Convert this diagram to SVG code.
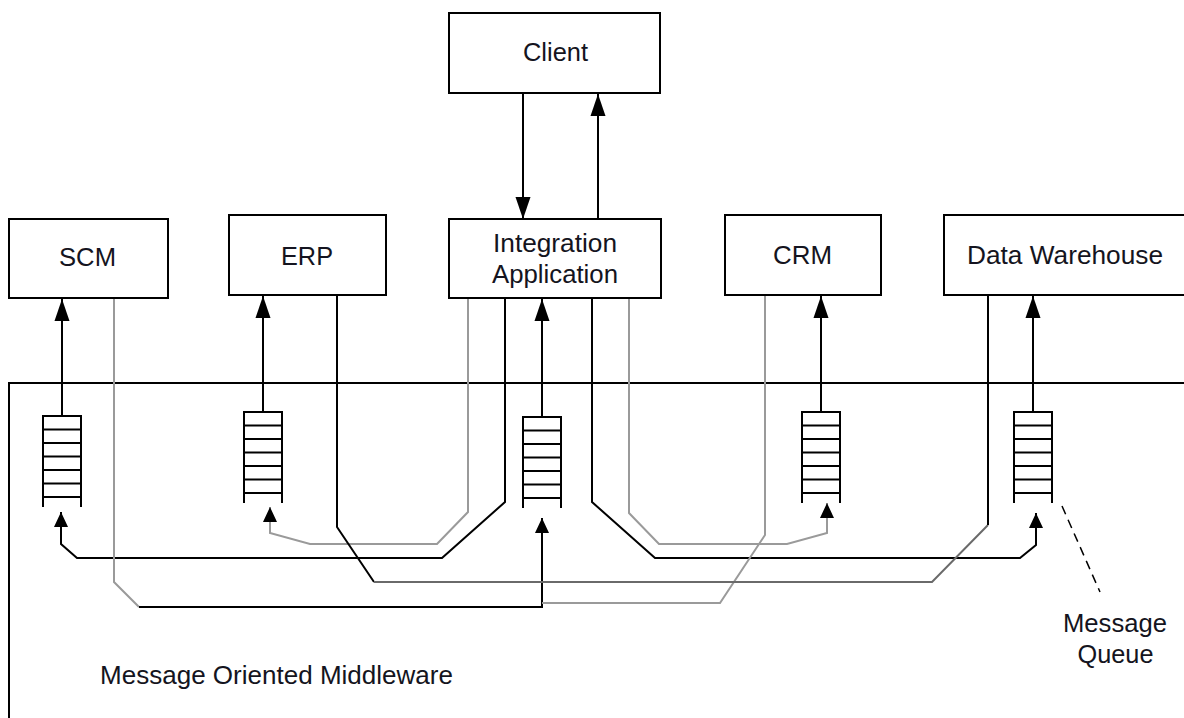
<svg xmlns="http://www.w3.org/2000/svg" xmlns:xlink="http://www.w3.org/1999/xlink" width="1184" height="718" viewBox="0 0 1184 718">
  <style>
    .box { fill: #fff; stroke: #000; stroke-width: 2; }
    .lbl { font-family: "Liberation Sans", Arial, Helvetica, sans-serif; font-size: 25px; fill: #141420; text-anchor: middle; }
    .blk { fill: none; stroke: #000; stroke-width: 2; stroke-linejoin: miter; }
    .gry { fill: none; stroke: #9a9a9a; stroke-width: 2; }
    .mid { fill: none; stroke: #6a6a6a; stroke-width: 2; }
    .frame { fill: none; stroke: #000; stroke-width: 2; }
    .q { fill: none; stroke: #000; stroke-width: 2; }
    .lead { fill: none; stroke: #000; stroke-width: 1.5; stroke-dasharray: 9 6; }
  </style>
  <defs>
    <!-- long arrowhead for the queue-to-application and client links -->
    <marker id="ah-lg" markerUnits="userSpaceOnUse" viewBox="0 0 23 16" markerWidth="23" markerHeight="16" refX="22" refY="8" orient="auto">
      <path d="M0,0.5 L22,8 L0,15.5 z" fill="#000"/>
    </marker>
    <!-- short arrowhead for the routes feeding a queue -->
    <marker id="ah-sm" markerUnits="userSpaceOnUse" viewBox="0 0 16 14" markerWidth="16" markerHeight="14" refX="15" refY="7" orient="auto">
      <path d="M0,0 L15,7 L0,14 z" fill="#000"/>
    </marker>
    <!-- message queue: open-bottomed ladder -->
    <g id="queue-shape">
      <path class="q" d="M0,91 V0 H38 V91 M0,13.5 H38 M0,27 H38 M0,40.5 H38 M0,54 H38 M0,67.5 H38 M0,81 H38"/>
    </g>
  </defs>

  <rect width="1184" height="718" fill="#fff"/>

  <!-- middleware frame -->
  <g id="mom">
    <path class="frame" d="M1184,383 H9 V718"/>
    <text class="lbl" x="276.5" y="684" textLength="353" lengthAdjust="spacingAndGlyphs">Message Oriented Middleware</text>
  </g>

  <!-- queues -->
  <g id="queue-scm"><use xlink:href="#queue-shape" x="43" y="416"/></g>
  <g id="queue-erp"><use xlink:href="#queue-shape" x="244" y="412"/></g>
  <g id="queue-integration"><use xlink:href="#queue-shape" x="523" y="417"/></g>
  <g id="queue-crm"><use xlink:href="#queue-shape" x="802" y="412"/></g>
  <g id="queue-dw"><use xlink:href="#queue-shape" x="1014" y="412"/></g>

  <g id="connectors">
    <!-- client <-> integration application -->
    <path class="blk" d="M523,93 V219" marker-end="url(#ah-lg)"/>
    <path class="blk" d="M598,219 V94" marker-end="url(#ah-lg)"/>

    <!-- queue deliveries -->
    <path class="blk" d="M62,416 V299" marker-end="url(#ah-lg)"/>
    <path class="blk" d="M263,412 V296" marker-end="url(#ah-lg)"/>
    <path class="blk" d="M542,417 V299" marker-end="url(#ah-lg)"/>
    <path class="blk" d="M821,412 V296" marker-end="url(#ah-lg)"/>
    <path class="blk" d="M1033,412 V296" marker-end="url(#ah-lg)"/>

    <!-- integration application -> SCM queue -->
    <path class="blk" d="M505,298 V502 L442,558 H77 L61,544 V512" marker-end="url(#ah-sm)"/>
    <!-- integration application -> ERP queue -->
    <path class="gry" d="M468,298 V512 L437,544 H310 L270,533 V507" marker-end="url(#ah-sm)"/>
    <!-- integration application -> CRM queue -->
    <path class="gry" d="M629,298 V513 L659,544 H787 L827,533 V503" marker-end="url(#ah-sm)"/>
    <!-- integration application -> data warehouse queue -->
    <path class="blk" d="M592,298 V502 L655,558 H1020 L1036,545 V513" marker-end="url(#ah-sm)"/>

    <!-- SCM -> integration queue -->
    <path class="gry" d="M114,298 V582 L139,607"/>
    <path class="blk" d="M139,607 H542 V518" marker-end="url(#ah-sm)"/>
    <!-- CRM -> integration queue -->
    <path class="gry" d="M765,295 V535 L720,603 H542"/>

    <!-- ERP <-> data warehouse -->
    <path class="blk" d="M337,295 V527 L374,582"/>
    <path class="mid" d="M374,582 H932 L988,525"/>
    <path class="blk" d="M988,525 V295"/>

    <!-- queue callout -->
    <path class="lead" d="M1062,506 L1100,592"/>
  </g>

  <!-- application nodes -->
  <g id="client">
    <rect class="box" x="449" y="13" width="211" height="80"/>
    <text class="lbl" x="555.5" y="61" textLength="65" lengthAdjust="spacingAndGlyphs">Client</text>
  </g>
  <g id="scm">
    <rect class="box" x="9" y="219" width="159" height="79"/>
    <text class="lbl" x="87.5" y="266" textLength="57" lengthAdjust="spacingAndGlyphs">SCM</text>
  </g>
  <g id="erp">
    <rect class="box" x="229" y="215" width="157" height="80"/>
    <text class="lbl" x="307" y="265" textLength="52" lengthAdjust="spacingAndGlyphs">ERP</text>
  </g>
  <g id="integration">
    <rect class="box" x="449" y="219" width="212" height="79"/>
    <text class="lbl" x="555" y="252" textLength="124" lengthAdjust="spacingAndGlyphs">Integration</text>
    <text class="lbl" x="555" y="283" textLength="126" lengthAdjust="spacingAndGlyphs">Application</text>
  </g>
  <g id="crm">
    <rect class="box" x="725" y="215" width="156" height="80"/>
    <text class="lbl" x="802.5" y="264" textLength="59" lengthAdjust="spacingAndGlyphs">CRM</text>
  </g>
  <g id="data-warehouse">
    <rect class="box" x="944" y="215" width="250" height="80"/>
    <text class="lbl" x="1065" y="264" textLength="196" lengthAdjust="spacingAndGlyphs">Data Warehouse</text>
  </g>

  <!-- queue label -->
  <g id="message-queue-label">
    <text class="lbl" x="1115" y="632" textLength="104" lengthAdjust="spacingAndGlyphs">Message</text>
    <text class="lbl" x="1115.5" y="663" textLength="76" lengthAdjust="spacingAndGlyphs">Queue</text>
  </g>
</svg>
